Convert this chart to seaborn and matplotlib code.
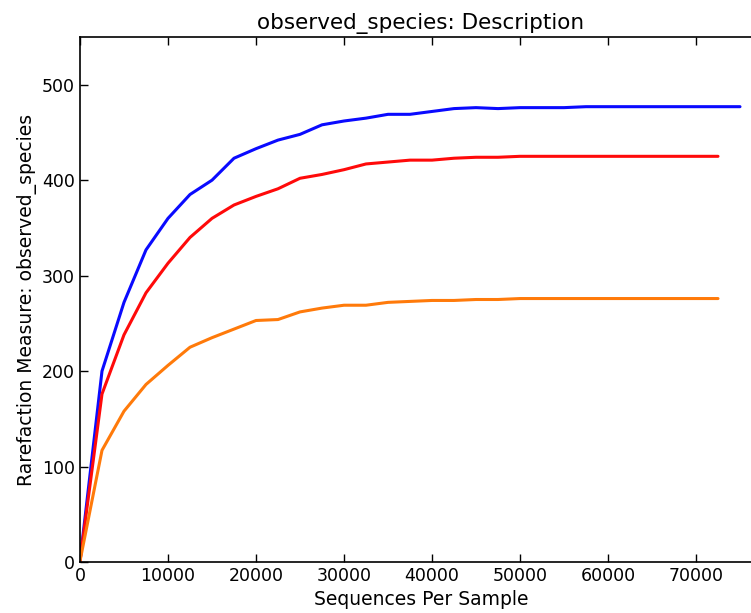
import pandas as pd
import seaborn as sns
import matplotlib
matplotlib.use("Agg")
import matplotlib.pyplot as plt

# Rarefaction data
depth_long = [0, 2500, 5000, 7500, 10000, 12500, 15000, 17500, 20000, 22500,
              25000, 27500, 30000, 32500, 35000, 37500, 40000, 42500, 45000,
              47500, 50000, 52500, 55000, 57500, 60000, 62500, 65000, 67500,
              70000, 72500, 75000]
depth_short = depth_long[:-1]

blue_vals = [1, 200, 272, 327, 360, 385, 400, 423, 433, 442,
             448, 458, 462, 465, 469, 469, 472, 475, 476,
             475, 476, 476, 476, 477, 477, 477, 477, 477,
             477, 477, 477]
red_vals = [1, 176, 238, 282, 313, 340, 360, 374, 383, 391,
            402, 406, 411, 417, 419, 421, 421, 423, 424,
            424, 425, 425, 425, 425, 425, 425, 425, 425,
            425, 425]
orange_vals = [1, 117, 158, 186, 206, 225, 235, 244, 253, 254,
               262, 266, 269, 269, 272, 273, 274, 274, 275,
               275, 276, 276, 276, 276, 276, 276, 276, 276,
               276, 276]

series_names = ["A", "B", "C"]
colors = {"A": "#0a0aff", "B": "#ff0a0a", "C": "#ff7a0a"}

df = pd.concat([
    pd.DataFrame({"depth": depth_long, "value": blue_vals, "group": "A"}),
    pd.DataFrame({"depth": depth_short, "value": red_vals, "group": "B"}),
    pd.DataFrame({"depth": depth_short, "value": orange_vals, "group": "C"}),
])

sns.set_style("ticks", {"xtick.direction": "in", "ytick.direction": "in"})
plt.rcParams["font.family"] = ["DejaVu Sans"]
plt.rcParams["text.color"] = "black"
plt.rcParams["axes.labelcolor"] = "black"

fig = plt.figure(figsize=(7.51, 6.13), dpi=100)
# axes run past the right edge of the figure, as in the reference
ax = fig.add_axes([80 / 751, 51 / 613, 682 / 751, 525 / 613])

sns.lineplot(data=df, x="depth", y="value", hue="group", palette=colors,
             hue_order=series_names, linewidth=2.2, legend=False, ax=ax)

ax.set_xlim(0, 77500)
ax.set_ylim(0, 550)
ax.set_xticks(range(0, 70001, 10000))
ax.set_yticks(range(0, 501, 100))
ax.tick_params(direction="in", top=True, right=True, length=6, width=1,
               labelsize=12.5, colors="black")
for sp in ax.spines.values():
    sp.set_visible(True)
    sp.set_color("black")
    sp.set_linewidth(1.2)

ax.set_title("observed_species: Description", fontsize=15.5, color="black")
ax.set_xlabel("Sequences Per Sample", fontsize=13.5)
ax.set_ylabel("Rarefaction Measure: observed_species", fontsize=13.5)

fig.savefig("out.png", dpi=100)
